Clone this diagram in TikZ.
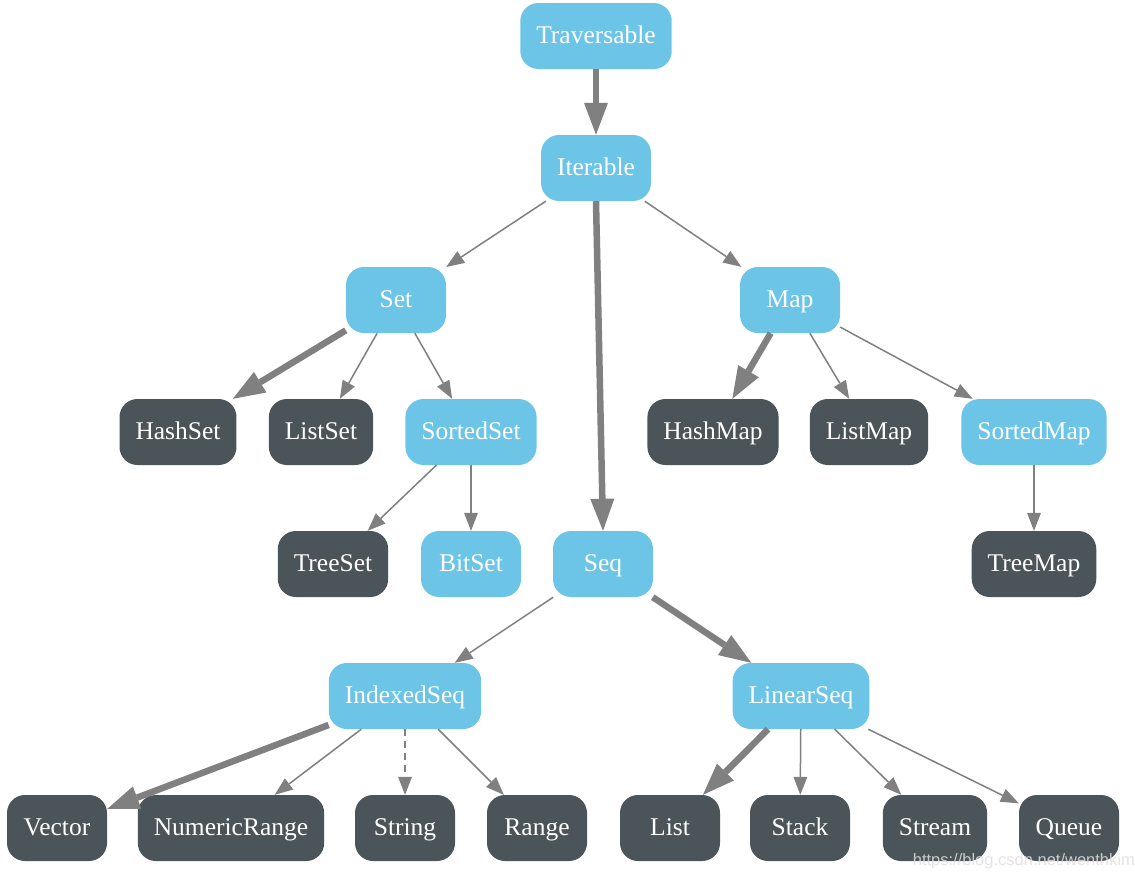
\documentclass[tikz,border=0pt]{standalone}
\usepackage{fontspec}
\setmainfont{Liberation Serif}
\newfontfamily\wmfont{Liberation Sans}
\usetikzlibrary{arrows.meta}
\definecolor{lblue}{RGB}{108,197,230}
\definecolor{dgray}{RGB}{74,84,89}
\definecolor{edgegray}{RGB}{128,128,128}
\tikzset{
  base/.style={rounded corners=18pt, minimum height=66pt, minimum width=100pt, inner xsep=16pt, text height=17pt, text depth=3pt, text=white, font=\fontsize{25.5}{30}\selectfont},
  trait/.style={base, fill=lblue},
  impl/.style={base, fill=dgray},
  thin/.style={draw=edgegray, line width=1.5pt, -{Triangle[length=18pt,width=14pt,line width=0pt]}},
  thick/.style={draw=edgegray, line width=6.5pt, -{Triangle[length=32pt,width=24pt,line width=0pt]}},
  dashedge/.style={thin, dash pattern=on 7pt off 5pt},
}
\begin{document}
\begin{tikzpicture}[x=1pt,y=-1pt]
\useasboundingbox (0,0) rectangle (1135,879);
\fill[white] (0,0) rectangle (1135,879);
% row 0
\node[trait] (trav) at (596,36) {Traversable};
% row 1
\node[trait] (iter) at (596,168) {Iterable};
% row 2
\node[trait] (set) at (396,300) {Set};
\node[trait] (map) at (790,300) {Map};
% row 3
\node[impl]  (hashset) at (178,432) {HashSet};
\node[impl]  (listset) at (321,432) {ListSet};
\node[trait] (sortedset) at (471,432) {SortedSet};
\node[impl]  (hashmap) at (713,432) {HashMap};
\node[impl]  (listmap) at (869,432) {ListMap};
\node[trait] (sortedmap) at (1034,432) {SortedMap};
% row 4
\node[impl]  (treeset) at (333,564) {TreeSet};
\node[trait] (bitset) at (471,564) {BitSet};
\node[trait] (seq) at (603,564) {Seq};
\node[impl]  (treemap) at (1034,564) {TreeMap};
% row 5
\node[trait] (idxseq) at (405,696) {IndexedSeq};
\node[trait] (linseq) at (801,696) {LinearSeq};
% row 6
\node[impl] (vector) at (57,828) {Vector};
\node[impl] (numrange) at (231,828) {NumericRange};
\node[impl] (string) at (405,828) {String};
\node[impl] (range) at (537,828) {Range};
\node[impl] (list) at (670,828) {List};
\node[impl] (stack) at (800,828) {Stack};
\node[impl] (stream) at (935,828) {Stream};
\node[impl] (queue) at (1069,828) {Queue};
% edges
\draw[thick] (trav) -- (iter);
\draw[thin] (iter) -- (set);
\draw[thin] (iter) -- (map);
\draw[thick] (iter.south) -- (seq.north);
\draw[thick] (set) -- (hashset);
\draw[thin] (set) -- (listset);
\draw[thin] (set) -- (sortedset);
\draw[thick] (map) -- (hashmap);
\draw[thin] (map) -- (listmap);
\draw[thin] (map) -- (sortedmap);
\draw[thin] (sortedset) -- (treeset);
\draw[thin] (sortedset) -- (bitset);
\draw[thin] (sortedmap) -- (treemap);
\draw[thin] (seq) -- (idxseq);
\draw[thick] (seq) -- (linseq);
\draw[thick] (idxseq) -- (vector);
\draw[thin] (idxseq) -- (numrange);
\draw[dashedge] (idxseq) -- (string);
\draw[thin] (idxseq) -- (range);
\draw[thick] (linseq) -- (list);
\draw[thin] (linseq) -- (stack);
\draw[thin] (linseq) -- (stream);
\draw[thin] (linseq) -- (queue);
% watermark
\node[anchor=base east, inner sep=0pt, text=white!75!gray, opacity=0.85, font=\wmfont\fontsize{16.5}{20}\selectfont] (wm) at (1135,865) {https://blog.csdn.net/wenthkim};
\end{tikzpicture}
\end{document}
